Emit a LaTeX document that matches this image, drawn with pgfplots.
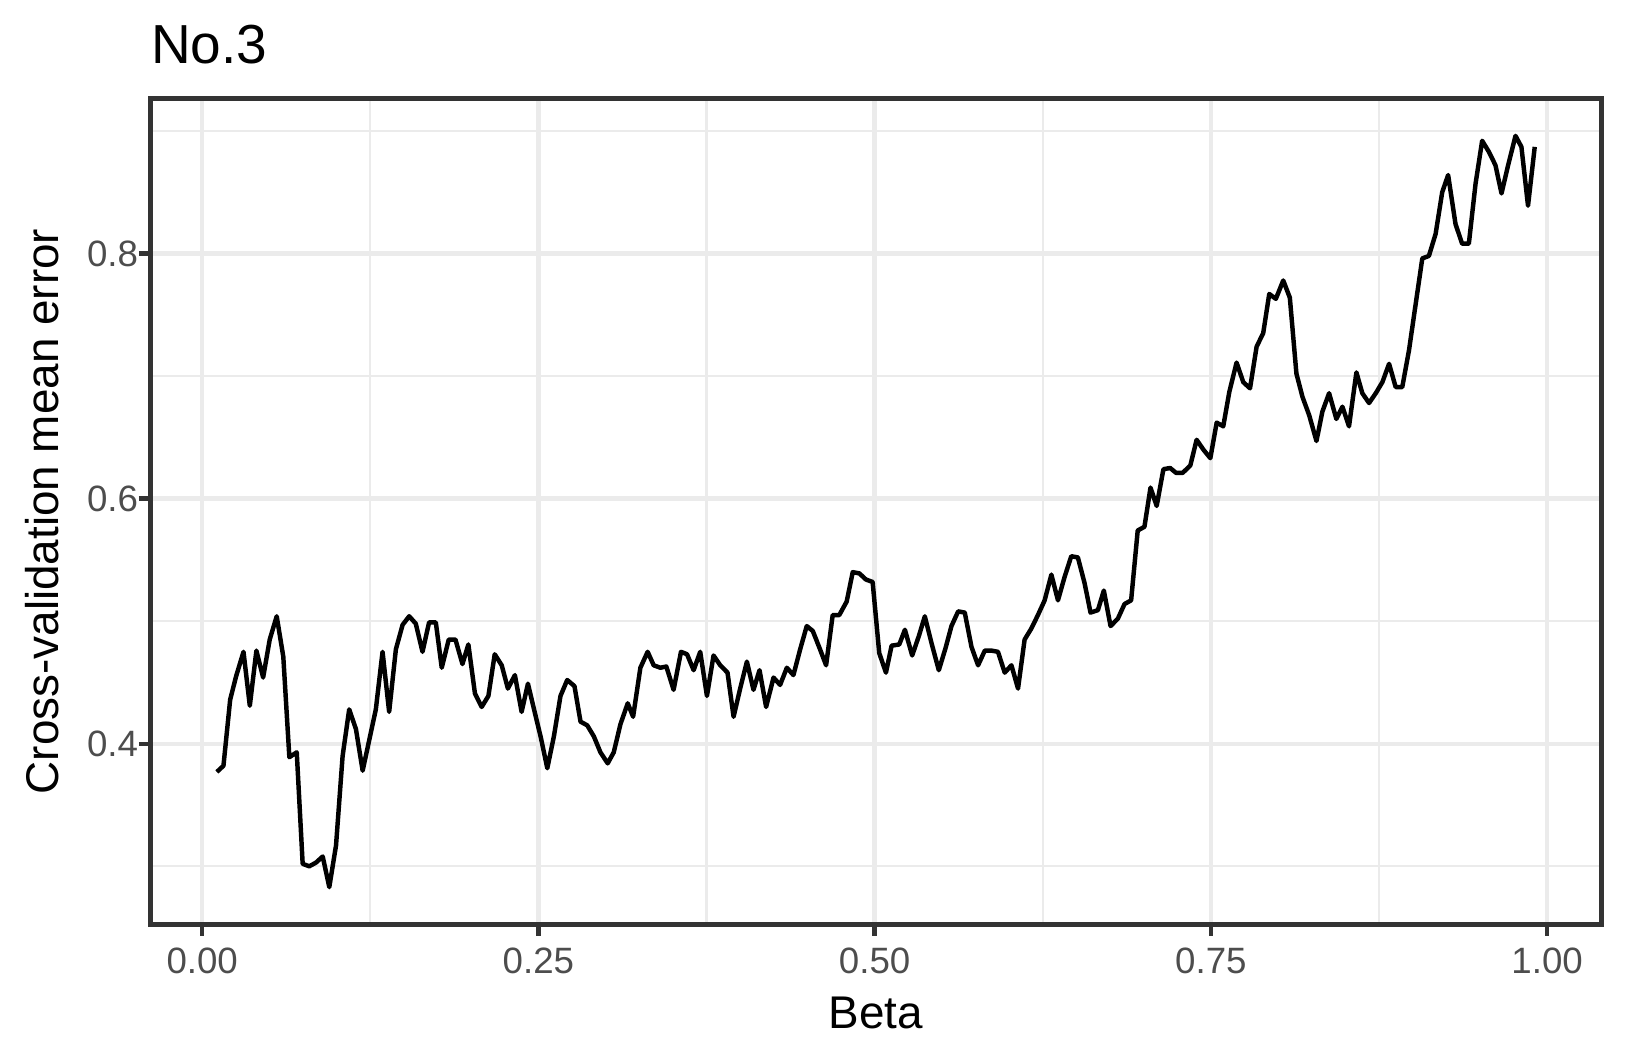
\documentclass[border=0pt]{standalone}
\usepackage{pgfplots}
\pgfplotsset{compat=1.18}
\usepackage{pgfplotstable}
\usepackage{fontspec}
\setmainfont{Liberation Sans}
\definecolor{gray20}{HTML}{333333}
\definecolor{gray30}{HTML}{4D4D4D}
\definecolor{gray92}{HTML}{EBEBEB}
\pgfplotstableread{
beta err
0.0109 0.377
0.0158 0.382
0.0208 0.436
0.0252 0.455
0.0307 0.475
0.0354 0.431
0.0403 0.476
0.0453 0.454
0.0502 0.485
0.0554 0.504
0.0603 0.471
0.0648 0.389
0.0703 0.393
0.0747 0.302
0.0796 0.300
0.0846 0.303
0.0896 0.308
0.0945 0.283
0.0995 0.317
0.1044 0.390
0.1093 0.428
0.1143 0.412
0.1193 0.378
0.1242 0.403
0.1291 0.428
0.1341 0.475
0.1390 0.426
0.1440 0.477
0.1490 0.497
0.1539 0.504
0.1588 0.498
0.1638 0.475
0.1687 0.499
0.1737 0.499
0.1781 0.462
0.1833 0.485
0.1883 0.485
0.1935 0.465
0.1979 0.481
0.2028 0.441
0.2078 0.430
0.2128 0.439
0.2175 0.473
0.2227 0.464
0.2273 0.445
0.2325 0.456
0.2375 0.426
0.2422 0.449
0.2474 0.425
0.2518 0.405
0.2566 0.380
0.2615 0.406
0.2664 0.439
0.2714 0.452
0.2768 0.447
0.2813 0.418
0.2863 0.415
0.2912 0.406
0.2961 0.393
0.3015 0.384
0.3060 0.393
0.3110 0.416
0.3164 0.433
0.3204 0.422
0.3258 0.462
0.3312 0.475
0.3357 0.464
0.3407 0.462
0.3451 0.463
0.3505 0.444
0.3560 0.475
0.3605 0.473
0.3654 0.460
0.3703 0.475
0.3753 0.439
0.3802 0.472
0.3852 0.464
0.3906 0.458
0.3951 0.422
0.4000 0.445
0.4050 0.467
0.4099 0.444
0.4144 0.460
0.4193 0.430
0.4248 0.454
0.4297 0.448
0.4347 0.462
0.4396 0.456
0.4446 0.477
0.4495 0.496
0.4540 0.492
0.4594 0.477
0.4639 0.464
0.4688 0.505
0.4737 0.505
0.4792 0.516
0.4837 0.540
0.4886 0.539
0.4935 0.534
0.4985 0.532
0.5034 0.474
0.5084 0.458
0.5126 0.480
0.5183 0.481
0.5225 0.493
0.5279 0.472
0.5329 0.488
0.5373 0.504
0.5423 0.482
0.5477 0.460
0.5527 0.478
0.5571 0.496
0.5621 0.508
0.5670 0.507
0.5720 0.479
0.5769 0.464
0.5819 0.476
0.5868 0.476
0.5917 0.475
0.5967 0.458
0.6017 0.464
0.6066 0.445
0.6115 0.485
0.6165 0.494
0.6214 0.505
0.6264 0.517
0.6314 0.538
0.6363 0.517
0.6412 0.536
0.6462 0.553
0.6511 0.552
0.6561 0.531
0.6605 0.507
0.6660 0.509
0.6704 0.525
0.6754 0.496
0.6808 0.502
0.6858 0.514
0.6907 0.517
0.6956 0.574
0.7006 0.577
0.7051 0.609
0.7097 0.594
0.7147 0.624
0.7197 0.625
0.7241 0.621
0.7290 0.621
0.7347 0.627
0.7394 0.648
0.7444 0.640
0.7496 0.633
0.7543 0.662
0.7592 0.659
0.7637 0.687
0.7691 0.711
0.7741 0.695
0.7791 0.690
0.7840 0.724
0.7889 0.735
0.7934 0.767
0.7983 0.763
0.8038 0.778
0.8087 0.764
0.8136 0.702
0.8181 0.683
0.8231 0.668
0.8285 0.647
0.8329 0.671
0.8379 0.686
0.8433 0.665
0.8478 0.675
0.8527 0.659
0.8582 0.703
0.8626 0.686
0.8676 0.678
0.8726 0.686
0.8775 0.695
0.8825 0.710
0.8874 0.691
0.8923 0.691
0.8973 0.721
0.9023 0.759
0.9072 0.796
0.9121 0.798
0.9171 0.816
0.9220 0.850
0.9264 0.864
0.9319 0.824
0.9368 0.808
0.9418 0.808
0.9468 0.857
0.9517 0.892
0.9567 0.883
0.9616 0.872
0.9661 0.849
0.9710 0.872
0.9765 0.896
0.9809 0.887
0.9858 0.839
0.9908 0.887
}\cvdata
\begin{document}
\begin{tikzpicture}
\path (0,0) rectangle (390pt,254.16pt);
\begin{axis}[
  at={(36.07pt,32.28pt)}, anchor=south west,
  scale only axis, width=348.24pt, height=198.24pt,
  xmin=-0.0386, xmax=1.0403, ymin=0.2525, ymax=0.9265,
  xtick={0,0.25,0.5,0.75,1}, xticklabels={0.00,0.25,0.50,0.75,1.00},
  ytick={0.4,0.6,0.8}, yticklabels={0.4,0.6,0.8},
  minor xtick={0.125,0.375,0.625,0.875},
  minor ytick={0.3,0.5,0.7,0.9},
  minor tick length=0pt,
  major tick length=2.75pt,
  tick align=outside, tick pos=left,
  grid=both,
  major grid style={color=gray92, line width=1.07pt},
  minor grid style={color=gray92, line width=0.53pt},
  axis line style={color=gray20, line width=1.07pt},
  tick style={color=gray20, line width=1.07pt},
  xticklabel style={font=\fontsize{8.8}{10}\selectfont, text=gray30, anchor=base, inner sep=0pt, yshift=-8.95pt},
  yticklabel style={font=\fontsize{8.8}{10}\selectfont, text=gray30, anchor=east, inner sep=0pt},
  every axis x label/.style={at={(rel axis cs:0.5,-0.1253)}, anchor=base, inner sep=0pt, font=\fontsize{11}{13}\selectfont},
  every axis y label/.style={at={(rel axis cs:-0.0631,0.5)}, rotate=90, anchor=base, inner sep=0pt, font=\fontsize{11}{13}\selectfont},
  every axis title/.style={at={(rel axis cs:0,1.0418)}, anchor=base west, inner sep=0pt, font=\fontsize{13.2}{15}\selectfont},
  title={No.3},
  xlabel={Beta},
  ylabel={Cross-validation mean error},
]
\addplot[black, line width=1.07pt, line join=round] table[x=beta, y=err] {\cvdata};
\end{axis}
\end{tikzpicture}
\end{document}
